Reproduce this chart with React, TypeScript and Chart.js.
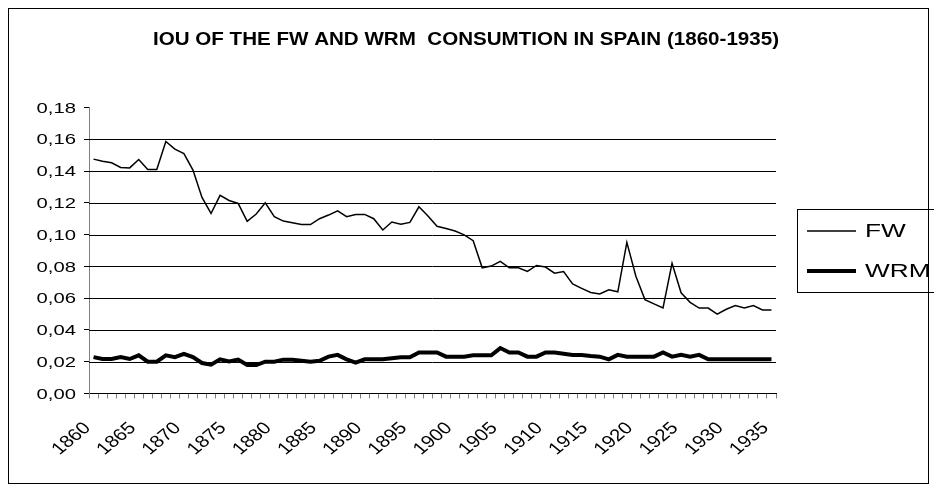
import React, { useEffect, useRef } from "react";
import { Chart, registerables } from "chart.js";

Chart.register(...registerables);

const years = [
  "1860","1861","1862","1863","1864","1865","1866","1867","1868","1869",
  "1870","1871","1872","1873","1874","1875","1876","1877","1878","1879",
  "1880","1881","1882","1883","1884","1885","1886","1887","1888","1889",
  "1890","1891","1892","1893","1894","1895","1896","1897","1898","1899",
  "1900","1901","1902","1903","1904","1905","1906","1907","1908","1909",
  "1910","1911","1912","1913","1914","1915","1916","1917","1918","1919",
  "1920","1921","1922","1923","1924","1925","1926","1927","1928","1929",
  "1930","1931","1932","1933","1934","1935",
];

const fwValues = [
  0.1475, 0.1462, 0.1452, 0.1423, 0.1420, 0.1473, 0.1410, 0.1410, 0.1586, 0.1538,
  0.1510, 0.1406, 0.1234, 0.1133, 0.1247, 0.1215, 0.1196, 0.1083, 0.1130, 0.1200,
  0.1113, 0.1085, 0.1075, 0.1063, 0.1063, 0.1100, 0.1123, 0.1150, 0.1113, 0.1127,
  0.1127, 0.1100, 0.1029, 0.1079, 0.1065, 0.1077, 0.1175, 0.1117, 0.1052, 0.1038,
  0.1023, 0.0998, 0.0962, 0.0791, 0.0802, 0.0832, 0.0791, 0.0791, 0.0768, 0.0806,
  0.0796, 0.0757, 0.0768, 0.0689, 0.0662, 0.0636, 0.0626, 0.0653, 0.0640, 0.0951,
  0.0738, 0.0591, 0.0564, 0.0538, 0.0819, 0.0634, 0.0574, 0.0538, 0.0538, 0.0500,
  0.0530, 0.0553, 0.0538, 0.0553, 0.0526, 0.0526,
];

const wrmValues = [
  0.0229, 0.0217, 0.0217, 0.0229, 0.0217, 0.0240, 0.0200, 0.0200, 0.0240, 0.0229,
  0.0250, 0.0229, 0.0192, 0.0181, 0.0215, 0.0202, 0.0213, 0.0179, 0.0179, 0.0200,
  0.0200, 0.0213, 0.0213, 0.0206, 0.0200, 0.0206, 0.0232, 0.0243, 0.0215, 0.0194,
  0.0215, 0.0215, 0.0215, 0.0222, 0.0228, 0.0228, 0.0258, 0.0258, 0.0258, 0.0232,
  0.0232, 0.0232, 0.0241, 0.0241, 0.0241, 0.0286, 0.0258, 0.0258, 0.0232, 0.0232,
  0.0258, 0.0258, 0.0250, 0.0243, 0.0243, 0.0236, 0.0232, 0.0215, 0.0243, 0.0232,
  0.0232, 0.0232, 0.0232, 0.0258, 0.0232, 0.0243, 0.0232, 0.0243, 0.0215, 0.0215,
  0.0215, 0.0215, 0.0215, 0.0215, 0.0215, 0.0215,
];

const seriesNames = ["FW", "WRM"];
const seriesWidths = [1.5, 4];
const yMin = 0;
const yMax = 0.18;
const yStep = 0.02;
const labelEvery = 5;
const chartTitle = "IOU OF THE FW AND WRM  CONSUMTION IN SPAIN (1860-1935)";

const FONT = "'Liberation Sans', Arial, sans-serif";

function fmtY(v: number) {
  return Number(v).toFixed(2).replace(".", ",");
}

const decorPlugin = {
  id: "decor",
  beforeDatasetsDraw(chart: any) {
    const { ctx, chartArea, scales } = chart;
    const y = scales.y;
    ctx.save();
    ctx.strokeStyle = "#000";
    ctx.lineWidth = 1;
    y.ticks.forEach((t: any) => {
      if (t.value >= y.max - 1e-9 || t.value <= y.min + 1e-9) return;
      const py = Math.round(y.getPixelForValue(t.value)) + 0.5;
      ctx.beginPath();
      ctx.moveTo(chartArea.left, py);
      ctx.lineTo(chartArea.right, py);
      ctx.stroke();
    });
    ctx.restore();
  },
  afterDraw(chart: any) {
    const { ctx, scales, chartArea } = chart;
    ctx.save();
    ctx.fillStyle = "#000";

    // title
    ctx.font = `bold 18px ${FONT}`;
    ctx.textAlign = "center";
    ctx.textBaseline = "middle";
    const tw = ctx.measureText(chartTitle).width;
    ctx.save();
    ctx.translate(466, 40);
    ctx.scale(626 / tw, 1);
    ctx.fillText(chartTitle, 0, 0);
    ctx.restore();

    // y tick labels
    const y = scales.y;
    ctx.font = `15px ${FONT}`;
    ctx.textAlign = "right";
    ctx.textBaseline = "middle";
    y.ticks.forEach((t: any) => {
      const py = y.getPixelForValue(t.value);
      ctx.save();
      ctx.translate(chartArea.left - 13, py + 1);
      ctx.scale(1.35, 1);
      ctx.fillText(fmtY(t.value), 0, 0);
      ctx.restore();
    });

    // x tick labels (rotated)
    const x = scales.x;
    ctx.font = `17px ${FONT}`;
    ctx.textAlign = "right";
    ctx.textBaseline = "middle";
    x.ticks.forEach((t: any, i: number) => {
      if (i % labelEvery !== 0) return;
      const px = x.getPixelForTick(i);
      ctx.save();
      ctx.translate(px - 6, chartArea.bottom + 32);
      ctx.scale(1.2, 1);
      ctx.rotate(-Math.PI / 4);
      ctx.fillText(x.getLabelForValue(t.value), 0, 0);
      ctx.restore();
    });

    // outer frame
    ctx.strokeStyle = "#000";
    ctx.lineWidth = 1;
    ctx.strokeRect(8.5, 8.5, 920, 475);

    // legend
    ctx.strokeRect(797.5, 209.5, 140, 83);
    chart.data.datasets.forEach((ds: any, i: number) => {
      const cy = 231 + i * 40;
      ctx.strokeStyle = ds.borderColor;
      ctx.lineWidth = ds.borderWidth;
      ctx.beginPath();
      ctx.moveTo(807, cy);
      ctx.lineTo(856, cy);
      ctx.stroke();
      ctx.fillStyle = "#000";
      ctx.font = `19px ${FONT}`;
      ctx.textAlign = "left";
      ctx.textBaseline = "middle";
      ctx.save();
      ctx.translate(865, cy + 1);
      ctx.scale(1.38, 1);
      ctx.fillText(ds.label, 0, 0);
      ctx.restore();
    });
    ctx.restore();
  },
};

export default function App() {
  const ref = useRef<HTMLCanvasElement | null>(null);

  useEffect(() => {
    if (!ref.current) return;
    const chart = new Chart(ref.current, {
      type: "line",
      data: {
        labels: years,
        datasets: [
          {
            label: seriesNames[0],
            data: fwValues,
            borderColor: "#000",
            borderWidth: seriesWidths[0],
            pointRadius: 0,
            fill: false,
            tension: 0,
          },
          {
            label: seriesNames[1],
            data: wrmValues,
            borderColor: "#000",
            borderWidth: seriesWidths[1],
            pointRadius: 0,
            fill: false,
            tension: 0,
          },
        ],
      },
      options: {
        animation: false,
        responsive: false,
        devicePixelRatio: 1,
        layout: { padding: { left: 0, right: 158, top: 107.5, bottom: 0 } },
        plugins: {
          legend: { display: false },
          tooltip: { enabled: false },
          title: { display: false },
        },
        scales: {
          x: {
            type: "category",
            offset: true,
            grid: {
              display: true,
              drawOnChartArea: false,
              offset: true,
              color: "#808080",
              tickLength: 5,
            },
            border: { display: true, color: "#000", width: 1 },
            ticks: { display: false, autoSkip: false },
            afterFit: (s: any) => {
              s.height = 94.5;
            },
          },
          y: {
            min: yMin,
            max: yMax,
            grid: { drawOnChartArea: false, color: "#000", tickLength: 5 },
            border: { display: true, color: "#808080", width: 1 },
            ticks: { display: false, stepSize: yStep },
            afterFit: (s: any) => {
              s.width = 89;
            },
          },
        },
      },
      plugins: [decorPlugin],
    });
    return () => chart.destroy();
  }, []);

  return (
    <div style={{ position: "absolute", left: 0, top: 0, width: 934, height: 488, background: "#fff" }}>
      <canvas ref={ref} width={934} height={488} style={{ width: 934, height: 488, display: "block" }} />
    </div>
  );
}
